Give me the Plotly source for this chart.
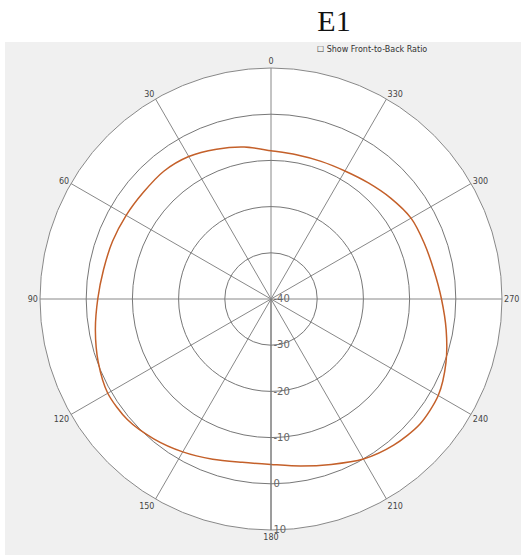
import plotly.graph_objects as go

# Data (dB vs azimuth angle)
angles = [0, 10, 20, 30, 40, 50, 60, 70, 80, 90, 100, 110, 120, 130, 140, 150,
          160, 170, 180, 190, 200, 210, 220, 230, 240, 250, 260, 270, 280, 290,
          300, 310, 320, 330, 340, 350, 360]
gain_db = [-7.9, -6.6, -5.5, -4.4, -3.9, -4.0, -3.8, -3.5, -3.2, -2.5, -1.4, -0.2,
           0.8, 0.6, -0.5, -1.8, -3.1, -4.1, -4.2, -3.3, -1.9, 0.0, 1.3, 2.1, 1.8,
           0.3, -1.5, -3.1, -4.2, -4.7, -5.0, -6.1, -7.2, -8.0, -8.3, -8.3, -7.9]
radial_ticks = [-40, -30, -20, -10, 0, 10]
angular_ticks = [0, 30, 60, 90, 120, 150, 180, 210, 240, 270, 300, 330]

fig = go.Figure()
fig.add_trace(go.Scatterpolar(
    r=gain_db, theta=angles, mode="lines",
    line=dict(color="#c4602a", width=1.5, shape="spline", smoothing=0.8),
    showlegend=False, hoverinfo="skip",
))

W, H = 521, 555
ml, mr, mt, mb = 5, 0, 42, 0
pw, ph = W - ml - mr, H - mt - mb
cx, cy, R = 271, 299, 231


def px2paper_x(x):
    return (x - ml) / pw


def px2paper_y(y):
    return (H - mb - y) / ph


fig.update_layout(
    width=W, height=H,
    margin=dict(l=ml, r=mr, t=mt, b=mb, autoexpand=False),
    paper_bgcolor="white",
    title=dict(text="E1", xref="container", yref="container",
               x=334 / W, y=1 - 20 / H, xanchor="center", yanchor="middle",
               font=dict(family="Liberation Serif", size=30, color="#111")),
    polar=dict(
        domain=dict(x=[px2paper_x(cx - R), px2paper_x(cx + R)],
                    y=[px2paper_y(cy + R), px2paper_y(cy - R)]),
        bgcolor="white",
        angularaxis=dict(
            rotation=90, direction="counterclockwise",
            tickmode="array", tickvals=angular_ticks,
            ticktext=[str(a) for a in angular_ticks],
            tickfont=dict(family="DejaVu Sans", size=8, color="#444"),
            ticks="", showline=True, linecolor="#888", linewidth=1,
            gridcolor="#888", gridwidth=1,
        ),
        radialaxis=dict(
            range=[-40, 10], tickmode="array", tickvals=radial_ticks,
            ticktext=[str(v) for v in radial_ticks],
            angle=-90, tickangle=-90, side="counterclockwise",
            tickfont=dict(family="DejaVu Sans", size=10, color="#666"),
            ticks="", showline=True, linecolor="#777", linewidth=1,
            gridcolor="#777", gridwidth=1,
        ),
    ),
    shapes=[dict(type="rect", xref="paper", yref="paper", x0=0, x1=1, y0=0, y1=1,
                 fillcolor="#f0f0f0", line=dict(width=0), layer="below")],
    annotations=[dict(text="☐ Show Front-to-Back Ratio", xref="paper", yref="paper",
                      x=px2paper_x(315), y=px2paper_y(49), xanchor="left",
                      yanchor="middle", showarrow=False,
                      font=dict(family="DejaVu Sans", size=8, color="#333"))],
)

fig.write_html("out.html", config={"displayModeBar": False},
               post_script="document.body.style.margin='0';")
